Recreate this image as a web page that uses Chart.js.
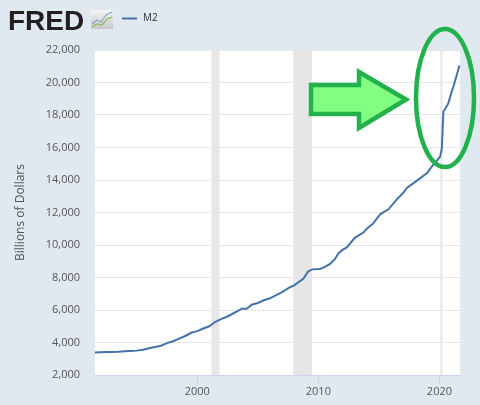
<!DOCTYPE html>
<html>
<head>
<meta charset="utf-8">
<script src="https://cdn.jsdelivr.net/npm/chart.js"></script>
<style>
  html, body { margin: 0; padding: 0; background: #e1e9f0; }
  #wrap { width: 480px; height: 405px; position: relative; }
</style>
</head>
<body>
<div id="wrap"><canvas id="m2Chart" width="480" height="405"></canvas></div>
<script>
'use strict';

// M2 money stock, billions of dollars
const years = [1991.55, 1992.0, 1992.5, 1993.0, 1993.5, 1994.0, 1994.5, 1995.0, 1995.5, 1996.0,
  1996.5, 1997.0, 1997.5, 1998.0, 1998.5, 1999.0, 1999.5, 2000.0, 2000.5, 2001.0,
  2001.46, 2002.0, 2002.5, 2003.0, 2003.67, 2004.08, 2004.5, 2005.0, 2005.5, 2006.0,
  2006.56, 2007.0, 2007.66, 2008.0, 2008.35, 2008.76, 2009.0, 2009.17, 2009.5, 2010.14,
  2010.5, 2010.97, 2011.38, 2011.65, 2012.0, 2012.35, 2013.03, 2013.72, 2014.0, 2014.5,
  2015.1, 2015.79, 2016.48, 2017.0, 2017.31, 2017.8, 2018.4, 2019.0, 2019.37, 2019.7,
  2020.06, 2020.2, 2020.33, 2020.5, 2020.74, 2021.0, 2021.16, 2021.44, 2021.65];
const m2 = [3380, 3400, 3410, 3420, 3430, 3460, 3480, 3500, 3560, 3640,
  3720, 3800, 3960, 4080, 4240, 4400, 4600, 4700, 4860, 5000,
  5260, 5450, 5600, 5800, 6080, 6070, 6324, 6430, 6600, 6720,
  6935, 7100, 7400, 7520, 7706, 7914, 8200, 8379, 8500, 8525,
  8640, 8832, 9138, 9481, 9700, 9847, 10458, 10764, 11000, 11300,
  11890, 12195, 12807, 13200, 13517, 13780, 14100, 14450, 14822, 15100,
  15438, 15956, 18213, 18400, 18731, 19400, 19755, 20476, 21050];

// recessions (shaded)
const recessionStarts = [2001.17, 2007.92, 2020.08];
const recessionEnds = [2001.83, 2009.46, 2020.25];

const xTicks = [2000, 2010, 2020];
const yTicks = [2000, 4000, 6000, 8000, 10000, 12000, 14000, 16000, 18000, 20000, 22000];

const bgColor = '#e1e9f0';
const lineColor = '#4572a7';

const backdrop = {
  id: 'backdrop',
  beforeDraw(chart) {
    const {ctx, chartArea: a, scales: {x}} = chart;
    ctx.save();
    ctx.fillStyle = bgColor;
    ctx.fillRect(0, 0, chart.width, chart.height);
    ctx.fillStyle = '#ffffff';
    ctx.fillRect(a.left, a.top, a.right - a.left, a.bottom - a.top);
    ctx.fillStyle = '#e6e6e6';
    recessionStarts.forEach((s, i) => {
      const x0 = x.getPixelForValue(s);
      const x1 = x.getPixelForValue(recessionEnds[i]);
      ctx.fillRect(x0, a.top, Math.max(x1 - x0, 2), a.bottom - a.top);
    });
    ctx.restore();
  }
};

const header = {
  id: 'header',
  afterDraw(chart) {
    const ctx = chart.ctx;
    ctx.save();
    // FRED logo text
    ctx.fillStyle = '#231f20';
    ctx.font = 'bold 28px "Liberation Sans", Arial, sans-serif';
    ctx.textBaseline = 'alphabetic';
    ctx.fillText('FRED', 8, 29.5);
    // small graph icon
    const g = ctx.createLinearGradient(0, 10, 0, 29);
    g.addColorStop(0, '#f4f4f4');
    g.addColorStop(1, '#c8c8c8');
    ctx.fillStyle = g;
    ctx.fillRect(91, 10, 22, 19);
    ctx.lineWidth = 1.2;
    ctx.strokeStyle = '#7fa7cf';
    ctx.beginPath();
    ctx.moveTo(92, 24); ctx.lineTo(97, 20); ctx.lineTo(101, 22); ctx.lineTo(106, 15); ctx.lineTo(112, 12);
    ctx.stroke();
    ctx.strokeStyle = '#8dbb5a';
    ctx.beginPath();
    ctx.moveTo(92, 27); ctx.lineTo(97, 24); ctx.lineTo(102, 25); ctx.lineTo(107, 19); ctx.lineTo(112, 17);
    ctx.stroke();
    // legend
    ctx.strokeStyle = lineColor;
    ctx.lineWidth = 2;
    ctx.beginPath();
    ctx.moveTo(122, 18.5); ctx.lineTo(137, 18.5);
    ctx.stroke();
    ctx.fillStyle = '#333333';
    ctx.font = '10px "Open Sans", sans-serif';
    ctx.textBaseline = 'middle';
    ctx.fillText('M2', 143, 18.5);
    ctx.restore();
  }
};

// green arrow + ellipse drawn over the chart
const markup = {
  id: 'markup',
  afterDraw(chart) {
    const ctx = chart.ctx;
    ctx.save();
    ctx.lineWidth = 4.5;
    ctx.strokeStyle = '#22b14c';
    ctx.fillStyle = '#80ff80';
    ctx.lineJoin = 'miter';
    ctx.beginPath();
    ctx.moveTo(311, 85);
    ctx.lineTo(359, 85);
    ctx.lineTo(359, 72);
    ctx.lineTo(406, 99.5);
    ctx.lineTo(359, 128);
    ctx.lineTo(359, 114);
    ctx.lineTo(311, 114);
    ctx.closePath();
    ctx.fill();
    ctx.stroke();
    ctx.beginPath();
    ctx.ellipse(445, 98, 29, 69, 0, 0, Math.PI * 2);
    ctx.stroke();
    ctx.restore();
  }
};

const tickFont = {family: '"Open Sans", sans-serif', size: 11};

const ctx = document.getElementById('m2Chart').getContext('2d');
const m2Chart = new Chart(ctx, {
  type: 'line',
  data: {
    datasets: [{
      label: 'M2',
      data: years.map((y, i) => ({x: y, y: m2[i]})),
      borderColor: lineColor,
      borderWidth: 2,
      pointRadius: 0,
      tension: 0,
      fill: false
    }]
  },
  options: {
    responsive: false,
    animation: false,
    events: [],
    layout: {padding: {left: 0, top: 50, right: 20, bottom: 0}},
    plugins: {
      legend: {display: false},
      tooltip: {enabled: false}
    },
    scales: {
      x: {
        type: 'linear',
        min: 1991.55,
        max: 2021.7,
        afterBuildTicks: (scale) => { scale.ticks = xTicks.map(v => ({value: v})); },
        afterFit: (scale) => { scale.height = 30; },
        ticks: {
          callback: (v) => String(v),
          font: tickFont,
          color: '#555555',
          padding: 1,
          maxRotation: 0
        },
        grid: {drawOnChartArea: false, drawTicks: true, tickLength: 9, color: '#ccd6eb'},
        border: {display: true, color: '#ccd6eb', width: 1}
      },
      y: {
        min: 2000,
        max: 22000,
        afterBuildTicks: (scale) => { scale.ticks = yTicks.map(v => ({value: v})); },
        afterFit: (scale) => { scale.width = 95; },
        ticks: {
          callback: (v) => v.toLocaleString('en-US'),
          font: tickFont,
          color: '#555555',
          padding: 15
        },
        grid: {color: '#e6e6e6', drawTicks: false},
        border: {display: false},
        title: {
          display: true,
          text: 'Billions of Dollars',
          font: {family: '"Open Sans", sans-serif', size: 12},
          color: '#555555',
          padding: {top: 13, bottom: 0}
        }
      }
    }
  },
  plugins: [backdrop, header, markup]
});
</script>
</body>
</html>
